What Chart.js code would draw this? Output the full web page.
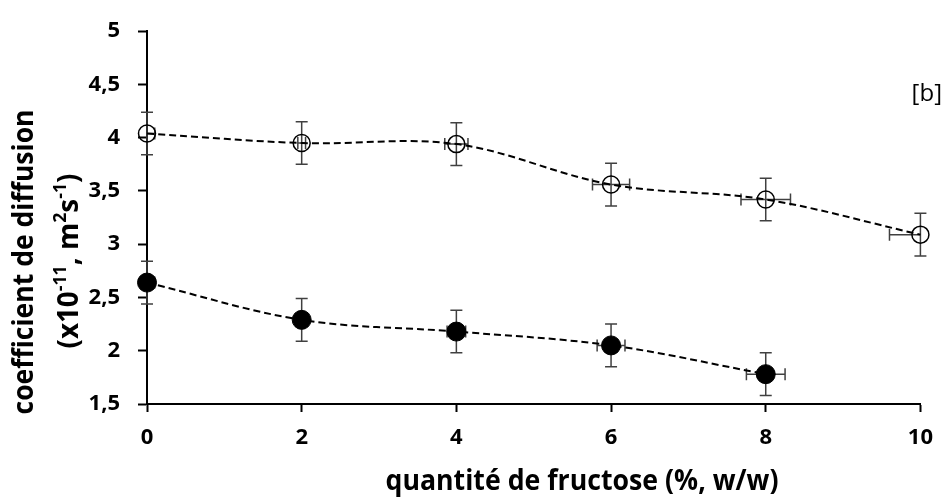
<!DOCTYPE html>
<html>
<head>
<meta charset="utf-8">
<script src="https://cdn.jsdelivr.net/npm/chart.js@4.4.1/dist/chart.umd.min.js"></script>
<style>
  body { margin: 0; background: #fff; }
</style>
</head>
<body>
<canvas id="diffCanvas" width="946" height="497"></canvas>
<script>
// fructose content (%, w/w)
var fructose = [0, 2, 4, 6, 8, 10];

// open circles
var openVals = [4.04, 3.95, 3.94, 3.56, 3.42, 3.09];
var openErrY = [0.2, 0.2, 0.2, 0.2, 0.2, 0.2];
var openErrX = [0.1, 0.05, 0.15, 0.24, 0.32, 0.4];

// filled circles (no point at 10)
var filledVals = [2.64, 2.29, 2.18, 2.05, 1.78];
var filledErrY = [0.2, 0.2, 0.2, 0.2, 0.2];
var filledErrX = [0.1, 0.05, 0.12, 0.18, 0.25];

var yTicks = [1.5, 2, 2.5, 3, 3.5, 4, 4.5, 5];
var xTicks = [0, 2, 4, 6, 8, 10];

var FONT = "'Open Sans', sans-serif";

function pts(xs, ys) {
  return ys.map(function (y, i) { return { x: xs[i], y: y }; });
}

// error bars, drawn under the markers
var errorBars = {
  id: "errorBars",
  beforeDatasetsDraw: function (chart) {
    var ctx = chart.ctx, xs = chart.scales.x, ys = chart.scales.y, area = chart.chartArea;
    var sets = [
      { v: openVals, ex: openErrX, ey: openErrY },
      { v: filledVals, ex: filledErrX, ey: filledErrY }
    ];
    var cap = 6;
    ctx.save();
    ctx.strokeStyle = "#404040";
    ctx.lineWidth = 1.5;
    sets.forEach(function (s) {
      s.v.forEach(function (val, i) {
        var px = xs.getPixelForValue(fructose[i]);
        var py = ys.getPixelForValue(val);
        var yt = ys.getPixelForValue(val + s.ey[i]);
        var yb = ys.getPixelForValue(val - s.ey[i]);
        ctx.beginPath();
        ctx.moveTo(px, yt); ctx.lineTo(px, yb);
        ctx.moveTo(px - cap, yt); ctx.lineTo(px + cap, yt);
        ctx.moveTo(px - cap, yb); ctx.lineTo(px + cap, yb);
        ctx.stroke();
        // horizontal bars stay inside the plot area
        var xl = xs.getPixelForValue(fructose[i] - s.ex[i]);
        var xr = xs.getPixelForValue(fructose[i] + s.ex[i]);
        ctx.beginPath();
        ctx.moveTo(Math.max(xl, area.left), py); ctx.lineTo(Math.min(xr, area.right), py);
        if (xl >= area.left) { ctx.moveTo(xl, py - cap); ctx.lineTo(xl, py + cap); }
        if (xr <= area.right) { ctx.moveTo(xr, py - cap); ctx.lineTo(xr, py + cap); }
        ctx.stroke();
      });
    });
    ctx.restore();
  }
};

// draws a run of [text, isSuperscript] pieces centred on cx, fitted to width w
function drawRuns(ctx, parts, cx, base, w, bigFont, smallFont, rise) {
  var total = 0;
  parts.forEach(function (p) { ctx.font = p[1] ? smallFont : bigFont; total += ctx.measureText(p[0]).width; });
  var k = w / total;
  ctx.save();
  ctx.translate(cx - w / 2, base);
  ctx.scale(k, 1);
  ctx.textAlign = "left";
  ctx.textBaseline = "alphabetic";
  var x = 0;
  parts.forEach(function (p) {
    ctx.font = p[1] ? smallFont : bigFont;
    ctx.fillText(p[0], x, p[1] ? -rise : 0);
    x += ctx.measureText(p[0]).width;
  });
  ctx.restore();
}

// axis titles with superscripts + panel tag
var labels = {
  id: "labels",
  afterDraw: function (chart) {
    var ctx = chart.ctx;
    var big = "bold 28px " + FONT, small = "bold 18px " + FONT;
    ctx.save();
    ctx.fillStyle = "#000";

    // x title
    drawRuns(ctx, [["quantité de fructose (%, w/w)", 0]], 582, 490, 393, big, small, 0);

    // y title, rotated
    ctx.translate(0, 262);
    ctx.rotate(-Math.PI / 2);
    drawRuns(ctx, [["coefficient de diffusion", 0]], 0, 33, 305, big, small, 0);
    drawRuns(ctx, [["(x10", 0], ["-11", 1], [", m", 0], ["2", 1], ["s", 0], ["-1", 1], [")", 0]],
      1, 78, 175, big, small, 12);
    ctx.restore();

    ctx.save();
    ctx.font = "24px " + FONT;
    ctx.textAlign = "right";
    ctx.textBaseline = "middle";
    ctx.fillStyle = "#000";
    ctx.fillText("[b]", 942, 94);
    ctx.restore();
  }
};

var ctx = document.getElementById("diffCanvas");
var diffChart = new Chart(ctx, {
  type: "scatter",
  data: {
    datasets: [{
      label: "open",
      data: pts(fructose, openVals),
      showLine: true,
      borderColor: "#000",
      borderWidth: 2,
      borderDash: [7, 4],
      tension: 0.35,
      pointRadius: 8.5,
      pointBorderWidth: 1.5,
      pointBorderColor: "#000",
      pointBackgroundColor: "rgba(0,0,0,0)",
      clip: false
    }, {
      label: "filled",
      data: pts(fructose, filledVals),
      showLine: true,
      borderColor: "#000",
      borderWidth: 2,
      borderDash: [7, 4],
      tension: 0.35,
      pointRadius: 9.5,
      pointBorderWidth: 1,
      pointBorderColor: "#000",
      pointBackgroundColor: "#000",
      clip: false
    }]
  },
  options: {
    responsive: false,
    animation: false,
    layout: { padding: { left: 0, right: 19, top: 20, bottom: 0 } },
    plugins: { legend: { display: false }, tooltip: { enabled: false } },
    scales: {
      x: {
        type: "linear",
        min: 0, max: 10,
        afterBuildTicks: function (s) { s.ticks = xTicks.map(function (v) { return { value: v }; }); },
        afterFit: function (s) { s.height = 93; },
        grid: { drawOnChartArea: false, tickLength: 8, tickColor: "#000", tickWidth: 2 },
        border: { color: "#000", width: 2 },
        ticks: { color: "#000", padding: 13, font: { family: FONT, size: 22, weight: "bold" } }
      },
      y: {
        min: 1.5, max: 5,
        afterBuildTicks: function (s) { s.ticks = yTicks.map(function (v) { return { value: v }; }); },
        afterFit: function (s) { s.width = 147; },
        grid: { drawOnChartArea: false, tickLength: 9, tickColor: "#000", tickWidth: 2 },
        border: { color: "#000", width: 2 },
        ticks: {
          color: "#000", padding: 18,
          font: { family: FONT, size: 22, weight: "bold" },
          callback: function (v) { return String(v).replace(".", ","); }
        }
      }
    }
  },
  plugins: [errorBars, labels]
});
</script>
</body>
</html>
